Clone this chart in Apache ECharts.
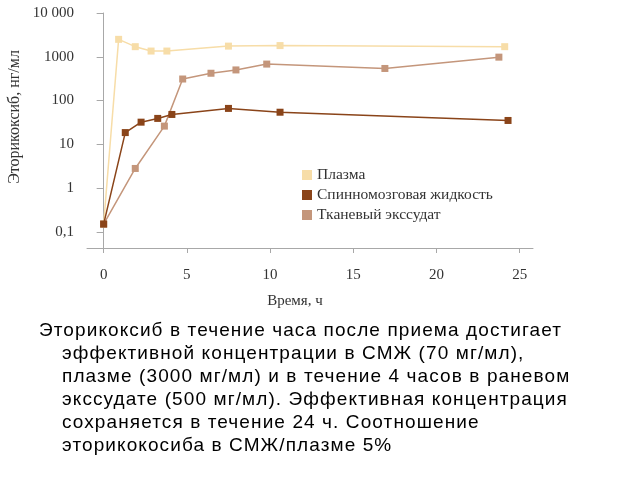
<!DOCTYPE html>
<html>
<head>
<meta charset="utf-8">
<script src="https://cdn.jsdelivr.net/npm/echarts@6/dist/echarts.min.js"></script>
<style>
  html, body { margin: 0; padding: 0; background: #fff; }
  #chart { position: absolute; left: 0; top: 0; width: 640px; height: 480px; }
  #note {
    position: absolute; left: 39px; top: 318px; width: 595px;
    font-family: 'Liberation Sans', Arial, sans-serif; font-size: 19px;
    letter-spacing: 1.1px; line-height: 23px; color: #000;
  }
  #note span { display: block; white-space: nowrap; padding-left: 23px; }
  #note span.first { padding-left: 0; }
</style>
</head>
<body>
<div id="chart"></div>
<div id="note">
  <span class="first">Эторикоксиб в течение часа после приема достигает</span>
  <span>эффективной концентрации в СМЖ (70 мг/мл),</span>
  <span>плазме (3000 мг/мл) и в течение 4 часов в раневом</span>
  <span>экссудате (500 мг/мл). Эффективная концентрация</span>
  <span>сохраняется в течение 24 ч. Соотношение</span>
  <span>эторикокосиба в СМЖ/плазме 5%</span>
</div>
<script>
// время, ч  /  концентрация, нг/мл
const plasmaX = [0, 0.9, 1.9, 2.85, 3.8, 7.5, 10.6, 24.1]
const plasmaY = [0.15, 2500, 1700, 1350, 1350, 1750, 1800, 1700]
const csfX = [0, 1.3, 2.25, 3.25, 4.1, 7.5, 10.6, 24.3]
const csfY = [0.15, 18.5, 32, 39, 48, 66, 54, 35]
const exuX = [0, 1.9, 3.65, 4.75, 6.45, 7.95, 9.8, 16.9, 23.75]
const exuY = [0.15, 2.8, 26, 310, 420, 500, 680, 540, 980]

const xTicks = [0, 5, 10, 15, 20, 25]
const yTicks = [0.1, 1, 10, 100, 1000, 10000]
const yTickLabels = ['0,1', '1', '10', '100', '1000', '10 000']
const seriesNames = ['Плазма', 'Спинномозговая жидкость', 'Тканевый экссудат']
const colors = ['#F7DDA8', '#8A4419', '#C4967B']

const zip = (xs, ys) => xs.map((x, i) => [x, ys[i]])

const chart = echarts.init(document.getElementById('chart'))
const font = 'Liberation Serif'

const lineSeries = (name, data, color, z) => ({
    name: name,
    type: 'line',
    data: data,
    z: z,
    symbol: 'rect',
    symbolSize: 7,
    color: color,
    lineStyle: { width: 1.5, color: color },
    itemStyle: { color: color },
    emphasis: { disabled: true }
})

const option = {
    animation: false,
    grid: { left: 87, right: 107, top: 13, bottom: 232 },
    legend: {
        orient: 'vertical',
        left: 297,
        top: 162,
        icon: 'rect',
        itemWidth: 10,
        itemHeight: 10,
        itemGap: 4,
        textStyle: { fontFamily: font, fontSize: 15.5, color: '#333' },
        data: seriesNames
    },
    xAxis: {
        type: 'value',
        min: -1,
        max: 25.8,
        splitLine: { show: false },
        axisLine: { lineStyle: { color: '#a8a8a8' } },
        axisTick: { customValues: xTicks, length: 5, lineStyle: { color: '#a8a8a8' } },
        axisLabel: {
            customValues: xTicks,
            margin: 20,
            fontFamily: font, fontSize: 15, color: '#333'
        }
    },
    yAxis: {
        type: 'log',
        min: 0.0426,
        max: 10000,
        splitLine: { show: false },
        axisLine: { show: true, lineStyle: { color: '#a8a8a8' } },
        axisTick: { customValues: yTicks, length: 7, lineStyle: { color: '#a8a8a8' } },
        axisLabel: {
            customValues: yTicks,
            margin: 13,
            fontFamily: font, fontSize: 15, color: '#333',
            formatter: v => {
                const i = yTicks.findIndex(t => Math.abs(t - v) / t < 1e-6)
                return i >= 0 ? yTickLabels[i] : ''
            }
        }
    },
    graphic: [
        {
            type: 'text',
            x: 15, y: 117,
            rotation: Math.PI / 2,
            style: {
                text: 'Эторикоксиб, нг/мл',
                fontFamily: font, fontSize: 16, fill: '#333',
                textAlign: 'center', textVerticalAlign: 'middle'
            }
        },
        {
            type: 'text',
            x: 295, y: 301,
            style: {
                text: 'Время, ч',
                fontFamily: font, fontSize: 15, fill: '#333',
                textAlign: 'center', textVerticalAlign: 'middle'
            }
        }
    ],
    series: [
        lineSeries(seriesNames[0], zip(plasmaX, plasmaY), colors[0], 2),
        lineSeries(seriesNames[2], zip(exuX, exuY), colors[2], 3),
        lineSeries(seriesNames[1], zip(csfX, csfY), colors[1], 4)
    ]
}

chart.setOption(option)
</script>
</body>
</html>
